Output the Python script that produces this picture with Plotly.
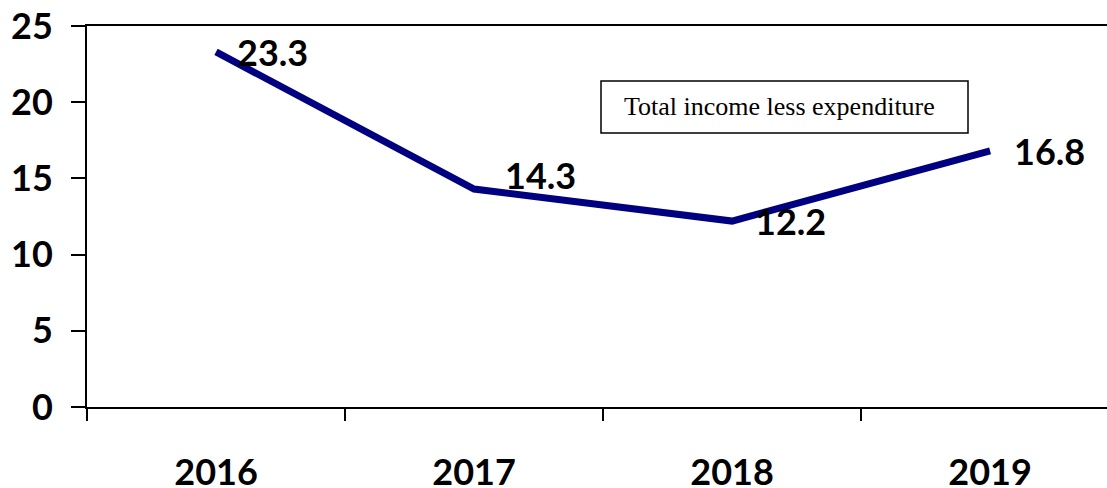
import plotly.graph_objects as go

# Net balance per year
years = ["2016", "2017", "2018", "2019"]
net_balance = [23.3, 14.3, 12.2, 16.8]
y_ticks = [0, 5, 10, 15, 20, 25]
series_name = "Total income less expenditure"

# label nudges (px) for the value labels: (xshift, yshift)
label_nudge = [(19, 0), (29, 14), (21, 0), (22, 0)]

W, H = 1107, 488
M_L, M_R, M_T, M_B = 87, 0, 26, 81
PW, PH = W - M_L - M_R, H - M_T - M_B

def px_x(px):
    return (px - M_L) / PW

def px_y(py):
    return (H - M_B - py) / PH

BOLD = dict(family="Lato, Carlito, Calibri, sans-serif", size=36, color="black", weight="bold")

fig = go.Figure()
fig.add_trace(go.Scatter(
    x=years, y=net_balance, mode="lines",
    line=dict(color="#000080", width=7),
    showlegend=False, hoverinfo="skip",
))

annotations = []
for i, (v, (dx, dy)) in enumerate(zip(net_balance, label_nudge)):
    annotations.append(dict(
        x=i, y=v, xref="x", yref="y", text=f"{v:.1f}", showarrow=False,
        xanchor="left", yanchor="middle", xshift=dx, yshift=dy, font=BOLD,
    ))

annotations.append(dict(
    x=px_x(622), y=px_y(107), xref="paper", yref="paper", text=series_name,
    showarrow=False, xanchor="left", yanchor="middle",
    font=dict(family="Liberation Serif, Times New Roman, serif", size=26, color="black"),
))

fig.add_shape(
    type="rect", xref="paper", yref="paper",
    x0=px_x(601), x1=px_x(968), y0=px_y(133), y1=px_y(81),
    line=dict(color="black", width=1.5), fillcolor="rgba(0,0,0,0)",
)

fig.update_layout(
    width=W, height=H,
    margin=dict(l=M_L, r=M_R, t=M_T, b=M_B, pad=0),
    paper_bgcolor="white", plot_bgcolor="white",
    annotations=annotations,
    xaxis=dict(
        type="category", range=[-0.5, (W - M_L) / (PW / 3.953) - 0.5],
        tickson="boundaries", ticks="outside", ticklen=12, tickwidth=2, tickcolor="black",
        showline=True, linecolor="black", linewidth=2, mirror=True,
        showgrid=False, zeroline=False, tickfont=BOLD, ticklabelstandoff=33,
        automargin=False,
    ),
    yaxis=dict(
        range=[0, 25], tickvals=y_ticks, ticktext=[str(t) for t in y_ticks],
        ticks="outside", ticklen=14, tickwidth=2, tickcolor="black",
        showline=True, linecolor="black", linewidth=2,
        showgrid=False, zeroline=False,
        tickfont=dict(BOLD, size=36), ticklabelstandoff=11,
        automargin=False,
    ),
)

fig.write_html("out.html")
